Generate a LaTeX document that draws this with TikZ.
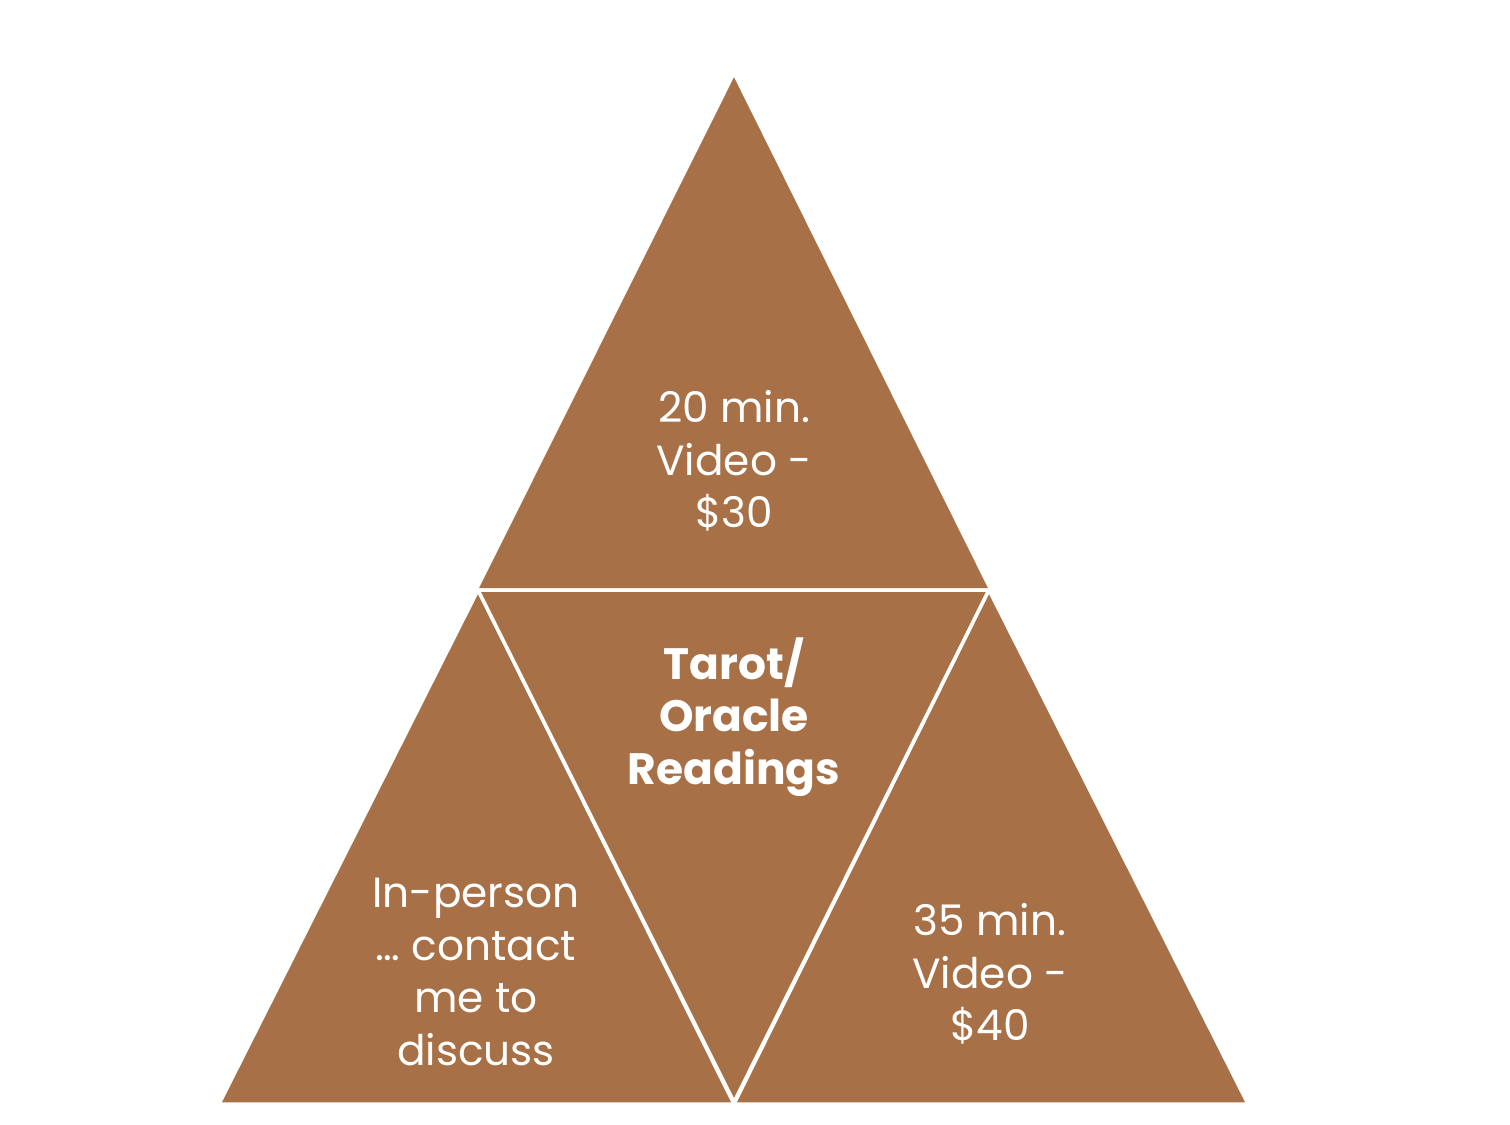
\documentclass[tikz,border=0pt]{standalone}
\usepackage{fontspec}
\setmainfont{Poppins}
\definecolor{tarotbrown}{RGB}{167,112,70}
\tikzset{
  tri/.style={fill=tarotbrown, draw=white, line width=1pt, line join=miter},
  label/.style={text=white, align=center, font=\fontsize{12}{15}\selectfont}
}
\begin{document}
\begin{tikzpicture}[x=0.01cm, y=-0.01cm]

% Cadre
\useasboundingbox (0,0) rectangle (1510,1124);

% Triangle du haut
\draw[tri]
(734,73) -- (476,590) -- (991,590) -- cycle;

% Triangle gauche
\draw[tri]
(478,590) -- (219,1104) -- (734,1104) -- cycle;

% Triangle central
\draw[tri]
(478,590) -- (989,590) -- (734,1102) -- cycle;

% Triangle droit
\draw[tri]
(989,590) -- (734,1104) -- (1248,1104) -- cycle;

% Textes
\node[label] (haut)
at (734,461)
{20 min.\\Video -\\\$30};

\node[label, font=\fontsize{12.5}{15}\selectfont\bfseries] (centre)
at (734,717)
{Tarot/\\Oracle\\Readings};

\node[label] (gauche)
at (476,972)
{In-person\\\dots\ contact\\me to\\discuss};

\node[label] (droite)
at (990,974)
{35 min.\\Video -\\\$40};

\end{tikzpicture}
\end{document}
